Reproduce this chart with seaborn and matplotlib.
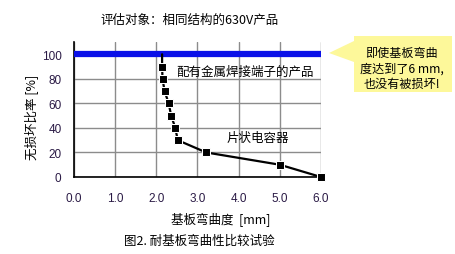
import matplotlib
matplotlib.use("Agg")
import matplotlib.pyplot as plt
import seaborn as sns
import pandas as pd
from matplotlib.patches import Polygon

# Data
chip_x = [2.14, 2.14, 2.15, 2.2, 2.3, 2.36, 2.46, 2.52, 3.21, 5.0, 6.0]
chip_y = [100, 90, 80, 70, 60, 50, 40, 30, 20, 10, 0]
metal_x = [0.0, 6.0]
metal_y = [100, 100]
x_ticks = [0, 1, 2, 3, 4, 5, 6]
x_tick_labels = ["0.0", "1.0", "2.0", "3.0", "4.0", "5.0", "6.0"]
y_ticks = [0, 20, 40, 60, 80, 100]

title = "评估对象：相同结构的630V产品"
label_metal = "配有金属焊接端子的产品"
label_chip = "片状电容器"
x_label = "基板弯曲度  [mm]"
y_label = "无损坏比率 [%]"
caption = "图2. 耐基板弯曲性比较试验"
callout = "即使基板弯曲\n度达到了6 mm,\n也没有被损坏!"

sns.set_style("white")
plt.rcParams['font.family'] = ['Noto Sans CJK SC', 'DejaVu Sans']

W, H = 456, 255
fig = plt.figure(figsize=(W / 100, H / 100), dpi=100)
ax = fig.add_axes([74 / W, 1 - 178 / H, (321 - 74) / W, (178 - 43) / H])

ax.set_xlim(0, 6)
ax.set_ylim(0, 110)
ax.set_xticks(x_ticks)
ax.set_xticklabels(x_tick_labels)
ax.set_yticks(y_ticks)
ax.grid(True, color="#8c8c8c", linewidth=1.0)
ax.set_axisbelow(True)
for s in ["top", "right"]:
    ax.spines[s].set_visible(False)
for s in ["left", "bottom"]:
    ax.spines[s].set_color("black")
    ax.spines[s].set_linewidth(1.2)
ax.tick_params(axis="both", length=0, labelsize=8.5, labelcolor="#2a1a45")
ax.tick_params(axis="x", pad=11)
ax.tick_params(axis="y", pad=9)
for lab in ax.get_xticklabels() + ax.get_yticklabels():
    lab.set_fontfamily("Liberation Sans")

df_metal = pd.DataFrame({"x": metal_x, "y": metal_y})
sns.lineplot(data=df_metal, x="x", y="y", ax=ax, color="#0a10e8", linewidth=4.5,
             estimator=None, sort=False, clip_on=False, zorder=4,
             solid_capstyle="butt")

df_chip = pd.DataFrame({"x": chip_x, "y": chip_y})
sns.lineplot(data=df_chip, x="x", y="y", ax=ax, color="black", linewidth=1.6,
             marker="s", markersize=6, markevery=list(range(1, len(chip_x))),
             estimator=None, sort=False, clip_on=False, zorder=5)

ax.set_xlabel("")
ax.set_ylabel("")

ax.text(176 / W, 1 - 72 / H, label_metal, transform=fig.transFigure,
        fontsize=9, ha="left", va="center", color="black")
ax.text(258 / W, 1 - 138 / H, label_chip, transform=fig.transFigure,
        fontsize=9, ha="center", va="center", color="black")

fig.text(190 / W, 1 - 20 / H, title, fontsize=9, ha="center", va="center", color="black")
fig.text(221 / W, 1 - 220 / H, x_label, fontsize=9, ha="center", va="center", color="black")
fig.text(32 / W, 1 - 117 / H, y_label, fontsize=9, ha="center", va="center",
         rotation=90, color="black")
fig.text(199 / W, 1 - 241 / H, caption, fontsize=9, ha="center", va="center", color="black")

# callout box
pts = [(354, 37), (452, 37), (452, 93), (354, 93), (354, 63), (329, 54), (354, 42)]
poly = Polygon([(x / W, 1 - y / H) for x, y in pts], closed=True,
               transform=fig.transFigure, facecolor="#fdf89a", edgecolor="none")
fig.patches.append(poly)
fig.text(402 / W, 1 - 69 / H, callout, fontsize=8.7, ha="center", va="center",
         multialignment="center", linespacing=1.25, color="black")

fig.savefig("out.png", dpi=100)
